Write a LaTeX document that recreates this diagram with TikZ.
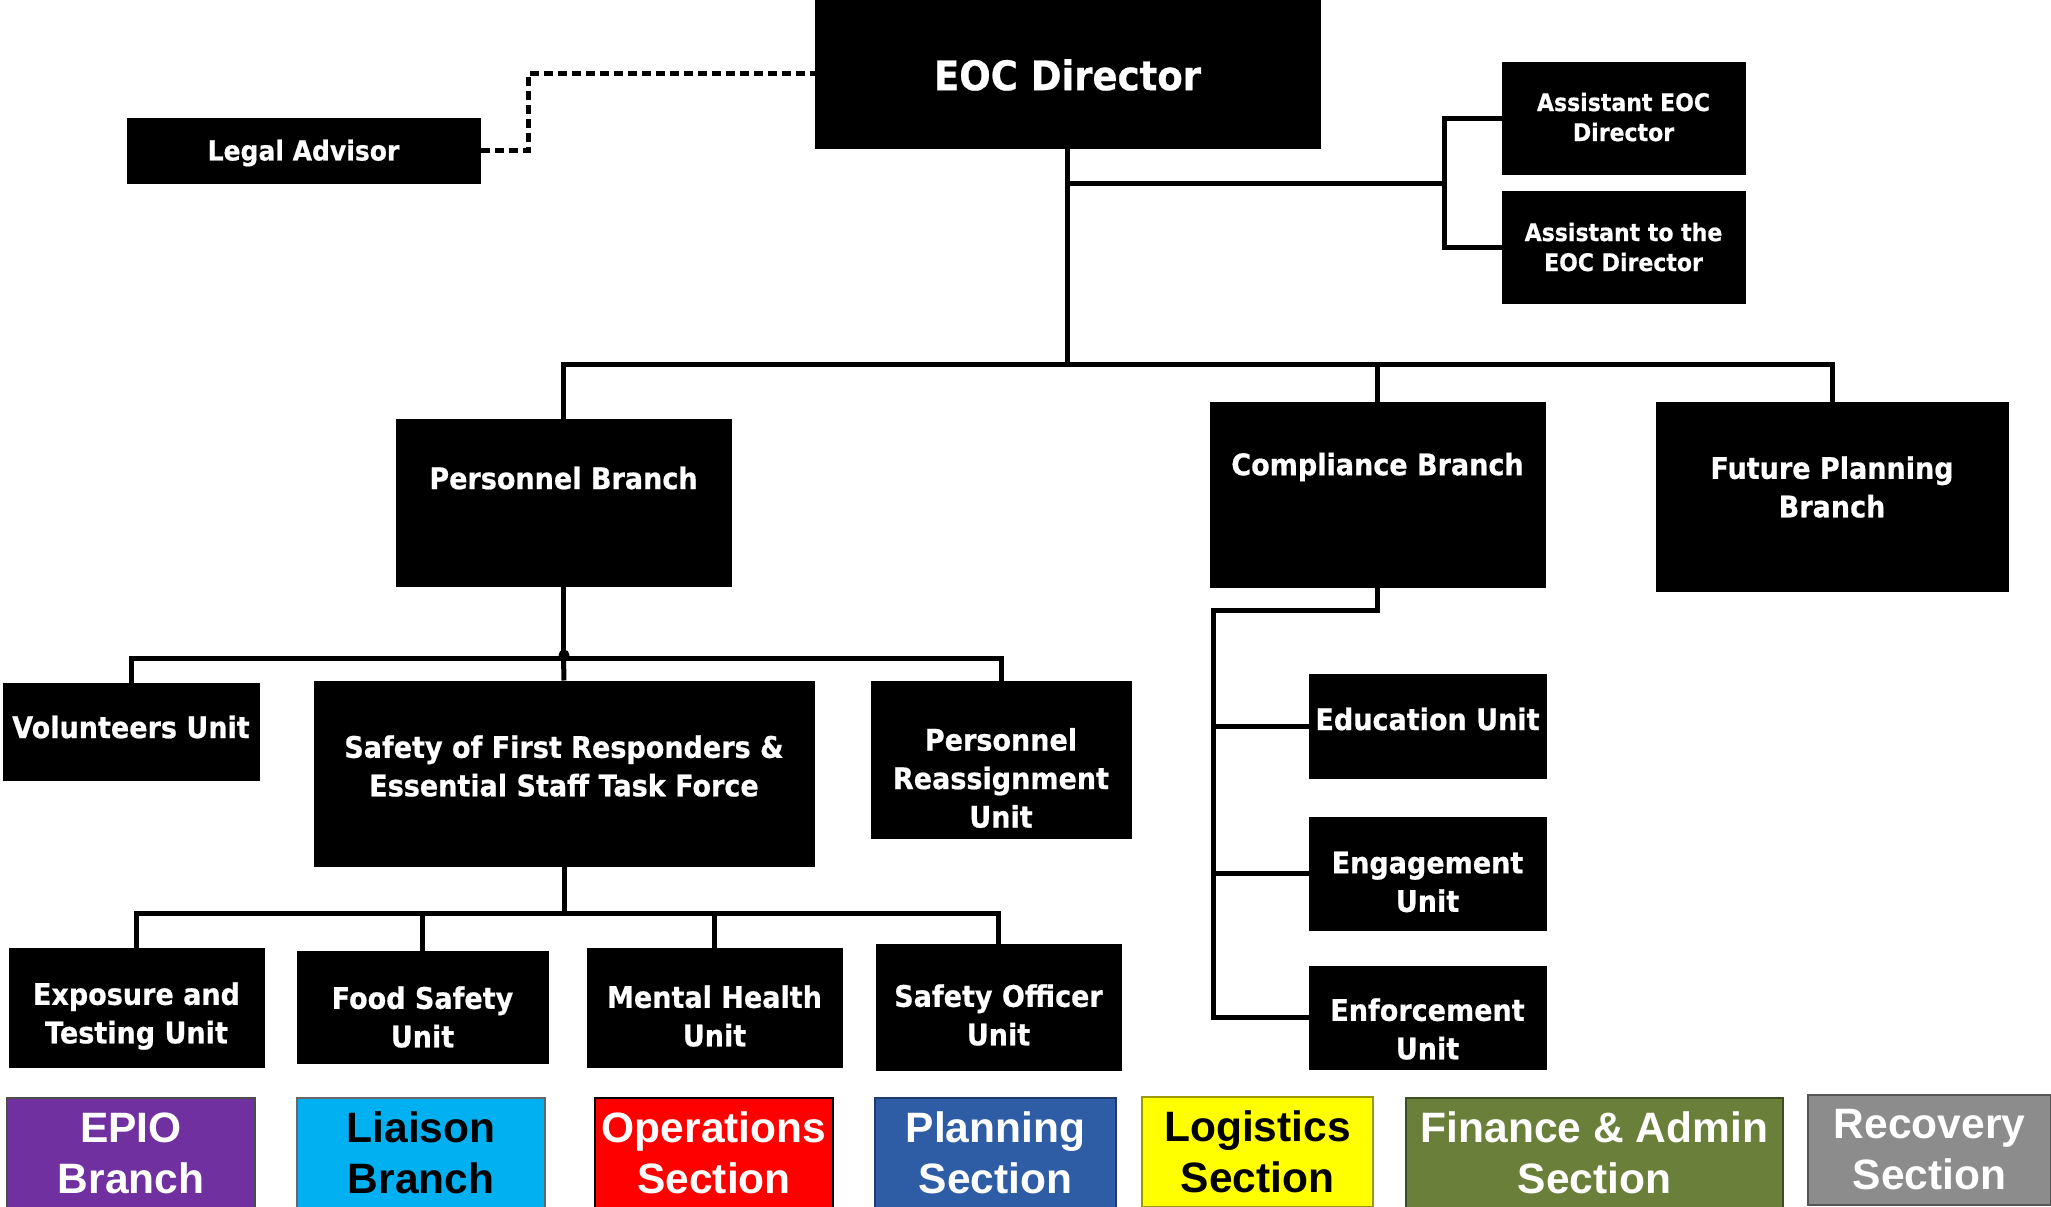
\documentclass[tikz,border=0pt]{standalone}
\usepackage{fontspec}
\usetikzlibrary{fit}
\newfontfamily\dvs{DejaVu Sans}[FakeStretch=0.91, BoldFeatures={FakeBold=0.6}]
\newfontfamily\lib{Liberation Sans}
\definecolor{epio}{HTML}{7030A0}
\definecolor{liaison}{HTML}{00B0F0}
\definecolor{oper}{HTML}{FF0000}
\definecolor{plan}{HTML}{2E5DA6}
\definecolor{planb}{HTML}{1F3C6E}
\definecolor{logi}{HTML}{FFFF00}
\definecolor{logib}{HTML}{9A9A00}
\definecolor{fin}{HTML}{6A803A}
\definecolor{finb}{HTML}{3F4D22}
\definecolor{recov}{HTML}{8C8C8C}
\definecolor{recovb}{HTML}{555555}
\tikzset{
  blk/.style={fill=black, draw=black, line width=1pt, inner sep=0pt},
  wt/.style={text=white, align=center, inner sep=0pt, font=\dvs\bfseries\fontsize{29.7}{38.5}\selectfont},
  wtsmall/.style={wt, font=\dvs\bfseries\fontsize{24.2}{30}\selectfont},
  conn/.style={line width=5pt, draw=black},
  dashconn/.style={line width=5pt, draw=black, dash pattern=on 9pt off 5pt},
  leg/.style={draw, line width=2.5pt, inner sep=0pt, align=center, minimum height=110pt,
    font=\lib\bfseries\fontsize{42.5}{51}\selectfont},
}
\begin{document}
\begin{tikzpicture}[x=1pt,y=-1pt]
\useasboundingbox (0,0) rectangle (2051,1207);
\fill[white] (0,0) rectangle (2051,1207);
% boxes
\node[blk, fit={(815,0) (1320,148)}] (eoc) {};
\node[blk, fit={(127,118) (480,183)}] (legal) {};
\node[blk, fit={(1502,63) (1745,174)}] (ast1) {};
\node[blk, fit={(1502,191) (1745,303)}] (ast2) {};
\node[blk, fit={(396,419) (731,586)}] (pers) {};
\node[blk, fit={(1210,402) (1545,587)}] (comp) {};
\node[blk, fit={(1656,402) (2008,591)}] (fut) {};
\node[blk, fit={(3,683) (259,780)}] (vol) {};
\node[blk, fit={(314,681) (814,866)}] (safe) {};
\node[blk, fit={(871,681) (1131,838)}] (reas) {};
\node[blk, fit={(9,948) (264,1067)}] (expo) {};
\node[blk, fit={(297,951) (548,1063)}] (food) {};
\node[blk, fit={(587,948) (842,1067)}] (ment) {};
\node[blk, fit={(876,944) (1121,1070)}] (soff) {};
\node[blk, fit={(1309,674) (1546,778)}] (edu) {};
\node[blk, fit={(1309,817) (1546,930)}] (eng) {};
\node[blk, fit={(1309,966) (1546,1069)}] (enf) {};
% texts
\node[wt, font=\dvs\bfseries\fontsize{40.7}{48}\selectfont] (eoc-t) at (1067.5,75) {EOC Director};
\node[wt, font=\dvs\bfseries\fontsize{27.5}{32}\selectfont] (legal-t) at (303.5,153) {Legal Advisor};
\node[wtsmall] (ast1-t) at (1623.5,117) {Assistant EOC\\Director};
\node[wtsmall] (ast2-t) at (1623.5,247) {Assistant to the\\EOC Director};
\node[wt] (pers-t) at (563.5,478) {Personnel Branch};
\node[wt] (comp-t) at (1377.5,467) {Compliance Branch};
\node[wt] (fut-t) at (1832,487) {Future Planning\\Branch};
\node[wt] (vol-t) at (131,727) {Volunteers Unit};
\node[wt] (safe-t) at (564,766) {Safety of First Responders \&\\Essential Staff Task Force};
\node[wt] (reas-t) at (1001,778) {Personnel\\Reassignment\\Unit};
\node[wt] (expo-t) at (136.5,1016) {Exposure and\\Testing Unit};
\node[wt] (food-t) at (422.5,1017) {Food Safety\\Unit};
\node[wt] (ment-t) at (714.5,1016) {Mental Health\\Unit};
\node[wt] (soff-t) at (998.5,1015) {Safety Officer\\Unit};
\node[wt] (edu-t) at (1427.5,719) {Education Unit};
\node[wt] (eng-t) at (1427.5,882) {Engagement\\Unit};
\node[wt] (enf-t) at (1427.5,1029) {Enforcement\\Unit};
% connectors
\coordinate (top) at (1067.5,364);
\draw[conn] (eoc.south) -- (top);
\draw[conn] (pers.north) |- (top) -| (fut.north);
\draw[conn] (comp.north) -- (comp.north |- top);
\coordinate (aj) at (1444,183);
\draw[conn] (eoc.south |- aj) -- (aj);
\draw[conn] (ast1.west) -| (aj) |- (ast2.west);
\coordinate (lj) at (528,0);
\draw[dashconn] (legal.east) -| (lj |- eoc.west) -- (eoc.west);
\coordinate (pj) at (563.5,658);
\draw[conn] (pers.south) -- (pj);
\draw[conn] (vol.north) |- (pj) -| (reas.north);
\draw[conn] (pj) -- (safe.north);
\fill (564,655) circle (5.5pt);
\coordinate (sj) at (564,913);
\draw[conn] (safe.south) -- (sj);
\draw[conn] (expo.north) |- (sj) -| (soff.north);
\draw[conn] (food.north) -- (food.north |- sj);
\draw[conn] (ment.north) -- (ment.north |- sj);
\coordinate (cj) at (1213,610);
\draw[conn] (comp.south) |- (cj) |- (enf.west);
\draw[conn] (cj |- edu.west) -- (edu.west);
\draw[conn] (cj |- eng.west) -- (eng.west);
% legend
\node[leg, fill=epio, draw=black!70, text=white, minimum width=248pt] (lg1) at (131,1153) {EPIO\\Branch};
\node[leg, fill=liaison, draw=black!60, text=black, minimum width=248pt] (lg2) at (421,1153) {Liaison\\Branch};
\node[leg, fill=oper, draw=black, text=white, minimum width=238pt] (lg3) at (714,1153) {Operations\\Section};
\node[leg, fill=plan, draw=planb, text=white, minimum width=241pt] (lg4) at (995.5,1153) {Planning\\Section};
\node[leg, fill=logi, draw=logib, text=black, minimum width=231pt] (lg5) at (1257.5,1152) {Logistics\\Section};
\node[leg, fill=fin, draw=finb, text=white, minimum width=377pt] (lg6) at (1594.5,1153) {Finance \& Admin\\Section};
\node[leg, fill=recov, draw=recovb, text=white, minimum width=243pt] (lg7) at (1929.5,1150) {Recovery\\Section};
\end{tikzpicture}
\end{document}
